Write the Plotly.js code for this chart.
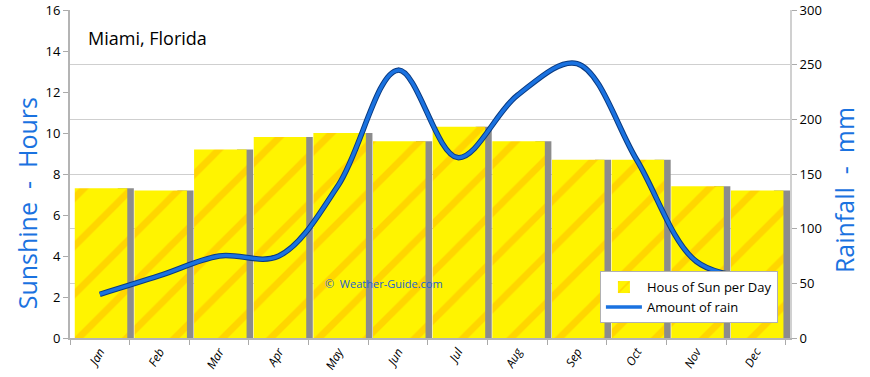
<!DOCTYPE html>
<html><head><meta charset="utf-8">
<script src="https://cdn.plot.ly/plotly-3.0.1.min.js"></script>
<style>body{margin:0;background:#fff}#c{width:870px;height:377px}</style>
</head><body><div id="c"></div>
<script>
var months = ["Jan","Feb","Mar","Apr","May","Jun","Jul","Aug","Sep","Oct","Nov","Dec"];
var sunHours = [7.3, 7.2, 9.2, 9.8, 10.0, 9.6, 10.3, 9.6, 8.7, 8.7, 7.4, 7.2];
var rainMm = [40, 57, 75, 75, 140, 245, 165, 222, 251, 163, 70, 55];
var sunTicks = [0,2,4,6,8,10,12,14,16];
var rainTicks = [0,50,100,150,200,250,300];

var fontFam = "'Open Sans', 'DejaVu Sans', sans-serif";
var traces = [
  { type:"bar", x:months, y:sunHours, name:"shadow", showlegend:false, hoverinfo:"skip",
    width:0.27, offset:0.3, marker:{color:"#8c8c8c", line:{width:0}}, yaxis:"y" },
  { type:"bar", x:months, y:sunHours, name:"Hous of Sun per Day",
    width:0.88, offset:-0.42,
    marker:{color:"#fff200", line:{width:0},
      pattern:{shape:"/", fgcolor:"#ffd600", bgcolor:"#fff400", size:34, solidity:0.2, fillmode:"replace"}},
    yaxis:"y" },
  { type:"scatter", mode:"lines", x:months, y:rainMm, yaxis:"y2", showlegend:false, hoverinfo:"skip",
    line:{shape:"spline", smoothing:1.0, color:"#0a3a80", width:5.5} },
  { type:"scatter", mode:"lines", x:months, y:rainMm, yaxis:"y2", name:"Amount of rain",
    line:{shape:"spline", smoothing:1.0, color:"#1a72e0", width:3.5} }
];
var layout = {
  width:870, height:377,
  margin:{l:70, r:80, t:10, b:39},
  paper_bgcolor:"#ffffff", plot_bgcolor:"#ffffff",
  barmode:"overlay",
  showlegend:true,
  legend:{x:0.736, y:0.204, xanchor:"left", yanchor:"top", bgcolor:"#ffffff",
    bordercolor:"#b0b0b0", borderwidth:1, font:{family:fontFam, size:13, color:"#000"},
    tracegroupgap:8, itemwidth:36},
  xaxis:{type:"category", tickson:"boundaries", ticks:"outside", ticklen:5, tickcolor:"#aaaaaa",
    showline:true, linecolor:"#b4b4b4", linewidth:2, showgrid:false, tickangle:-60,
    tickfont:{family:fontFam, size:12, color:"#000", style:"italic"}},
  yaxis:{range:[0,16], tickvals:sunTicks, ticks:"outside", ticklen:5, tickcolor:"#aaaaaa",
    showline:true, linecolor:"#b4b4b4", linewidth:2, showgrid:false, zeroline:false,
    tickfont:{family:fontFam, size:13, color:"#000"}},
  yaxis2:{range:[0,300], tickvals:rainTicks, overlaying:"y", side:"right", ticks:"outside", ticklen:5,
    tickcolor:"#aaaaaa", showline:true, linecolor:"#d0d0d0", linewidth:2, showgrid:true,
    gridcolor:"#cfcfcf", gridwidth:1, zeroline:false,
    tickfont:{family:fontFam, size:13, color:"#000"}},
  annotations:[
    {text:"Miami, Florida", xref:"paper", yref:"paper", x:0.022, y:0.915, xanchor:"left", yanchor:"middle",
     showarrow:false, font:{family:fontFam, size:18, color:"#000"}},
    {text:"©  Weather-Guide.com", xref:"paper", yref:"paper", x:0.352, y:0.165, xanchor:"left", yanchor:"middle",
     showarrow:false, font:{family:fontFam, size:11, color:"#1a5fd0"}},
    {text:"Sunshine  -  Hours", xref:"paper", yref:"paper", x:-0.06, y:0.41, xanchor:"center", yanchor:"middle",
     textangle:-90, showarrow:false, font:{family:fontFam, size:25, color:"#1a72e0"}},
    {text:"Rainfall  -  mm", xref:"paper", yref:"paper", x:1.076, y:0.45, xanchor:"center", yanchor:"middle",
     textangle:-90, showarrow:false, font:{family:fontFam, size:25, color:"#1a72e0"}}
  ]
};
Plotly.newPlot("c", traces, layout, {displayModeBar:false, staticPlot:true});
</script></body></html>
